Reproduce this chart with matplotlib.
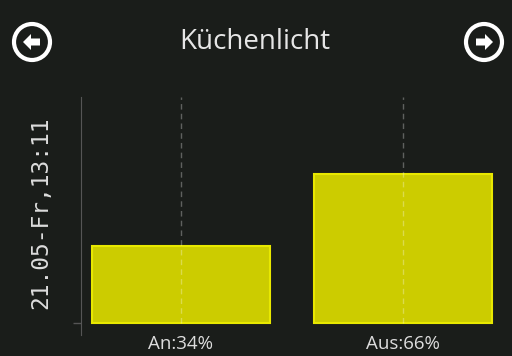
import matplotlib.pyplot as plt
from matplotlib.patches import Circle, Polygon

labels = ['An:34%', 'Aus:66%']
values = [34, 66]
title = 'Küchenlicht'
ylabel = '21.05-Fr,13:11'

bg = '#1a1d1a'
fig = plt.figure(figsize=(5.12, 3.56), dpi=100, facecolor=bg)
ax = fig.add_axes([0.158, 0.059, 0.824, 0.668], facecolor=bg)

x = list(range(len(values)))
ax.bar(x, values, width=0.8, color='#cccc00', edgecolor='#e8e800', linewidth=1.5, zorder=2)
ax.set_xlim(-0.45, 1.45)
ax.set_ylim(-5.3, 100)

# dashed lines at category centres, from baseline up
ax.vlines(x, 0, 100, colors='white', alpha=0.3, linestyles=(0, (4, 3)), linewidth=1, zorder=3)

ax.set_xticks(x)
ax.set_xticklabels(labels, fontsize=13.5, color='#dddddd', family='Open Sans')
ax.tick_params(axis='x', length=0, pad=0)
ax.set_yticks([0])
ax.set_yticklabels([''])
ax.tick_params(axis='y', length=6, color='#555555', width=1)

for s in ['top', 'right', 'bottom']:
    ax.spines[s].set_visible(False)
ax.spines['left'].set_color('#555555')

ax.set_ylabel(ylabel, family='DejaVu Sans Mono', fontsize=16.5, color='#dddddd')
ax.yaxis.set_label_coords(-0.069, 0.515)

fig.text(0.498, 0.882, title, ha='center', va='center', fontsize=20, color='#e6e6e6', family='Open Sans')

# navigation icons
for cx, d in [(32, -1), (484, 1)]:
    cy = 356 - 42
    fig.patches.append(Circle((cx, cy), 18, transform=None, fill=False,
                              edgecolor='white', linewidth=3))
    pts = [(cx + d * 9, cy), (cx + d * 1, cy + 8), (cx + d * 1, cy + 3.5), (cx - d * 8, cy + 3.5),
           (cx - d * 8, cy - 3.5), (cx + d * 1, cy - 3.5), (cx + d * 1, cy - 8)]
    fig.patches.append(Polygon(pts, closed=True, transform=None, facecolor='white', edgecolor='none'))

plt.savefig('out.png', dpi=100, facecolor=bg)
